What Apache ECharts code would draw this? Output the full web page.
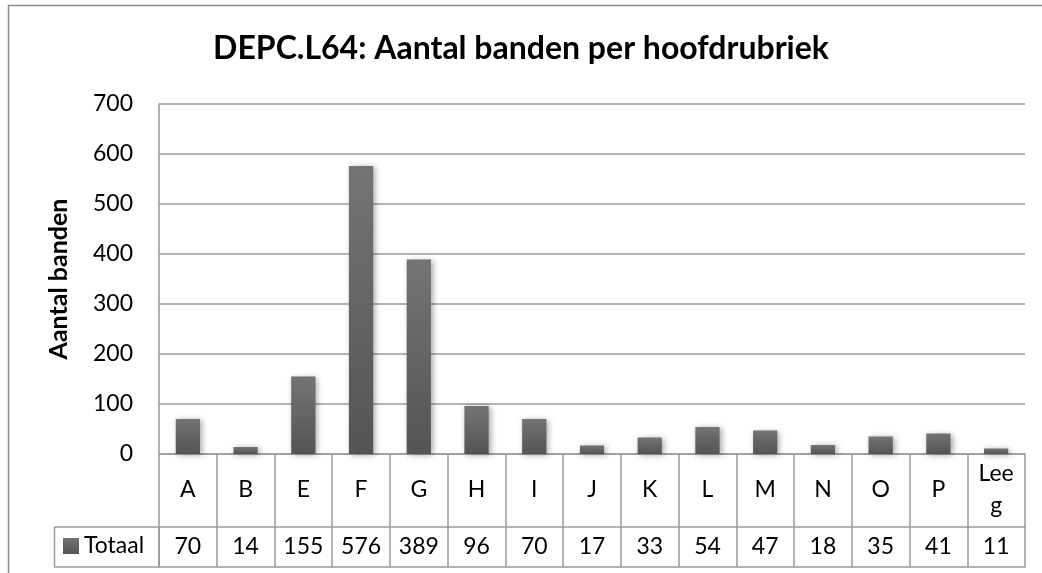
<!DOCTYPE html>
<html><head><meta charset="utf-8">
<script src="https://cdn.jsdelivr.net/npm/echarts@6/dist/echarts.min.js"></script>
<style>html,body{margin:0;padding:0;background:#fff}#c{width:1042px;height:573px}</style>
</head><body><div id="c"></div>
<script>
const categories = ['A','B','E','F','G','H','I','J','K','L','M','N','O','P','Leeg'];
const totaal = [70,14,155,576,389,96,70,17,33,54,47,18,35,41,11];
const yTicks = [0,100,200,300,400,500,600,700];
const FONT = 'Lato, "Open Sans", sans-serif';
const LINE = '#9a9a9a';
const FS = 23;
const chart = echarts.init(document.getElementById('c'));
chart.setOption({
  animation:false,
  backgroundColor:'#fff',
  title:{text:'DEPC.L64: Aantal banden per hoofdrubriek',left:'center',top:28,
    textStyle:{fontFamily:FONT,fontWeight:'bold',fontSize:32,color:'#000'}},
  legend:{data:['Totaal'],left:63,top:534,padding:0,icon:'rect',itemWidth:16,itemHeight:16,itemGap:5,
    textStyle:{fontFamily:FONT,fontSize:FS,lineHeight:24,color:'#000'}},
  grid:{left:159,right:17,top:104,bottom:119,containLabel:false},
  xAxis:[
    {type:'category',data:categories,position:'bottom',boundaryGap:true,
      axisLine:{show:true,lineStyle:{color:LINE,width:1.5}},
      axisTick:{show:true,interval:0,length:113,lineStyle:{color:LINE,width:1.5}},
      axisLabel:{interval:0,margin:36,verticalAlign:'middle',fontFamily:FONT,fontSize:FS,color:'#000',
        width:42,overflow:'breakAll',lineHeight:32,align:'center'}},
    {type:'category',data:categories,position:'bottom',offset:73,boundaryGap:true,
      axisLine:{show:true,lineStyle:{color:LINE,width:1.5}},axisTick:{show:false},
      axisLabel:{interval:0,margin:20,verticalAlign:'middle',fontFamily:FONT,fontSize:FS,color:'#000',
        formatter:(v,i)=>String(totaal[i])}},
    {type:'category',data:categories,position:'bottom',offset:113,boundaryGap:true,
      axisLine:{show:true,lineStyle:{color:LINE,width:1.5}},axisTick:{show:false},axisLabel:{show:false}}
  ],
  yAxis:{type:'value',min:yTicks[0],max:yTicks[yTicks.length-1],interval:100,
    name:'Aantal banden',nameLocation:'middle',nameGap:88,nameRotate:90,
    nameTextStyle:{fontFamily:FONT,fontWeight:'bold',fontSize:25,color:'#000'},
    axisLine:{show:true,lineStyle:{color:LINE,width:1.5}},axisTick:{show:false},
    axisLabel:{margin:26,fontFamily:FONT,fontSize:FS,color:'#000'},
    splitLine:{show:true,lineStyle:{color:LINE,width:1.5}}},
  series:[{name:'Totaal',type:'bar',xAxisIndex:0,data:totaal,barWidth:'42%',
    itemStyle:{color:new echarts.graphic.LinearGradient(0,0,0,1,[{offset:0,color:'#747474'},{offset:1,color:'#545454'}]),
      shadowBlur:6,shadowColor:'rgba(0,0,0,0.35)',shadowOffsetX:2,shadowOffsetY:1}}],
  graphic:[
    {type:'rect',shape:{x:8.5,y:5.5,width:1100,height:700},style:{fill:'none',stroke:'#8c8c8c',lineWidth:1.5},silent:true,z:-1},
    {type:'rect',shape:{x:54.5,y:527,width:104.5,height:40},style:{fill:'none',stroke:LINE,lineWidth:1.5},silent:true}
  ]
});
</script></body></html>
